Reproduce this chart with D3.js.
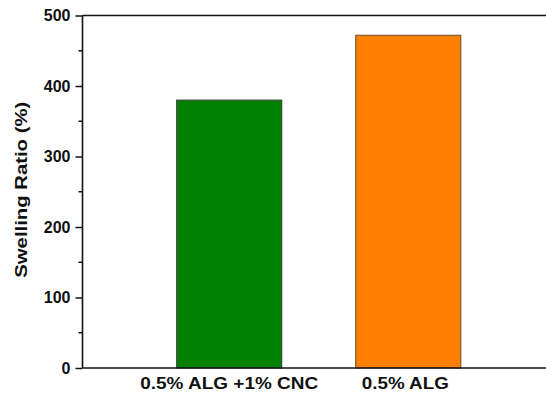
<!DOCTYPE html>
<html>
<head>
<meta charset="utf-8">
<script src="https://cdn.jsdelivr.net/npm/d3@7"></script>
<style>
  html, body { margin: 0; padding: 0; background: #ffffff; }
  svg { display: block; }
  text { font-family: "Liberation Sans", Arial, sans-serif; font-weight: bold; fill: #111; }
</style>
</head>
<body>
<script>
// Swelling ratio of the two hydrogel formulations
const categories = ["0.5% ALG +1% CNC", "0.5% ALG"];
const swelling = [380, 472];
const barColors = ["#008000", "#ff8000"];
const barStrokes = ["#3a3a3a", "#6b4a2a"];
const yTicks = [0, 100, 200, 300, 400, 500];
const yMinorTicks = [50, 150, 250, 350, 450];
const yTitle = "Swelling Ratio (%)";

const W = 546, H = 393;
const plotLeft = 82.5, plotTop = 15.5, plotBottom = 368;

const svg = d3.select("body").append("svg")
  .attr("width", W).attr("height", H);

const x = d3.scaleBand()
  .domain(categories)
  .range([plotLeft, 555])
  .paddingInner(0.413)
  .paddingOuter(0.526);

const y = d3.scaleLinear().domain([0, 500]).range([plotBottom, plotTop]);

// bars
svg.selectAll("rect.bar")
  .data(categories)
  .join("rect")
  .attr("class", "bar")
  .attr("x", d => x(d))
  .attr("y", (d, i) => y(swelling[i]))
  .attr("width", x.bandwidth())
  .attr("height", (d, i) => y(0) - y(swelling[i]))
  .attr("fill", (d, i) => barColors[i])
  .attr("stroke", (d, i) => barStrokes[i])
  .attr("stroke-width", 1);

// left axis with major ticks
const yAxis = svg.append("g")
  .attr("transform", `translate(${plotLeft},0)`)
  .call(d3.axisLeft(y).tickValues(yTicks).tickSize(7).tickPadding(5).tickFormat(d3.format("d")));
yAxis.select(".domain").remove();
yAxis.selectAll(".tick line").attr("stroke", "#111").attr("stroke-width", 1.5);
yAxis.selectAll(".tick text")
  .style("font-size", "16px")
  .style("font-family", "Liberation Sans, Arial, sans-serif")
  .style("font-weight", "bold")
  .attr("fill", "#111");

// minor ticks
svg.append("g")
  .selectAll("line")
  .data(yMinorTicks)
  .join("line")
  .attr("x1", plotLeft - 4).attr("x2", plotLeft)
  .attr("y1", d => y(d)).attr("y2", d => y(d))
  .attr("stroke", "#111").attr("stroke-width", 1.5);

// frame: left spine, top and bottom lines
svg.append("line")
  .attr("x1", plotLeft).attr("x2", plotLeft)
  .attr("y1", y(500)).attr("y2", y(0))
  .attr("stroke", "#111").attr("stroke-width", 1.6);
svg.append("line")
  .attr("x1", plotLeft).attr("x2", W)
  .attr("y1", y(500)).attr("y2", y(500))
  .attr("stroke", "#111").attr("stroke-width", 1.6);
svg.append("line")
  .attr("x1", plotLeft).attr("x2", W)
  .attr("y1", y(0)).attr("y2", y(0))
  .attr("stroke", "#111").attr("stroke-width", 1.6);

// category labels
const labelLengths = [178, 87];
svg.append("g")
  .selectAll("text")
  .data(categories)
  .join("text")
  .attr("x", (d, i) => x(d) + x.bandwidth() / 2 - (i === 1 ? 3 : 0))
  .attr("y", 388.5)
  .attr("text-anchor", "middle")
  .attr("textLength", (d, i) => labelLengths[i])
  .attr("lengthAdjust", "spacingAndGlyphs")
  .style("font-size", "16.5px")
  .text(d => d);

// y axis title
svg.append("text")
  .attr("transform", `translate(27,${(y(0) + y(500)) / 2 - 2}) rotate(-90)`)
  .attr("text-anchor", "middle")
  .attr("textLength", 176)
  .attr("lengthAdjust", "spacingAndGlyphs")
  .style("font-size", "16.5px")
  .text(yTitle);
</script>
</body>
</html>
